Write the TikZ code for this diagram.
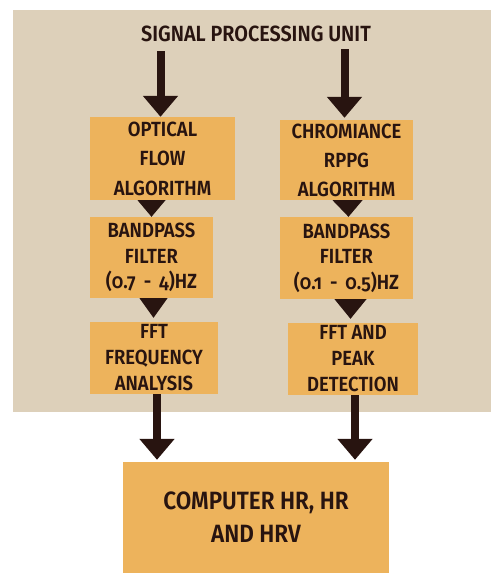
\documentclass[tikz,border=0pt]{standalone}
\usepackage{fontspec}
\setmainfont{Fira Sans}[Numbers=OldStyle,FakeStretch=0.9,BoldFont={Fira Sans SemiBold}]
\usetikzlibrary{arrows.meta,calc}
\definecolor{bgbeige}{RGB}{221,208,186}
\definecolor{boxorange}{RGB}{237,179,92}
\definecolor{darkbrown}{RGB}{40,20,16}
\begin{document}
\begin{tikzpicture}[x=1pt,y=-1pt,
  box/.style={fill=boxorange,draw=none,inner sep=0pt,align=center,text=darkbrown,
    font=\bfseries\fontsize{20.5}{25.5}\selectfont},
  bigarrow/.style={draw=darkbrown,line width=8pt,-{Triangle[width=34pt,length=21pt]}},
  tri/.style={fill=darkbrown}]
\useasboundingbox (0,0) rectangle (491,573);
\fill[white] (0,0) rectangle (491,573);
\fill[bgbeige] (13,10) rectangle (491,412);
\node[text=darkbrown,font=\bfseries\fontsize{22}{24}\selectfont] (title) at (256,34) {SIGNAL PROCESSING UNIT};
\node[box,minimum width=145pt,minimum height=83pt,font=\bfseries\fontsize{20.5}{29.5}\selectfont] (b1) at (162.5,158.5) {OPTICAL\\FLOW\\ALGORITHM};
\node[box,minimum width=133pt,minimum height=80pt,font=\bfseries\fontsize{20.5}{29}\selectfont] (c1) at (346.5,160) {CHROMIANCE\\RPPG\\ALGORITHM};
\node[box,minimum width=123pt,minimum height=81pt] (b2) at (151.5,257.5) {BANDPASS\\FILTER\\(0.7 \,-\, 4)HZ};
\node[box,minimum width=133pt,minimum height=82pt] (c2) at (346.5,258) {BANDPASS\\FILTER\\(0.1 \,-\, 0.5)HZ};
\node[box,minimum width=128pt,minimum height=72pt,font=\bfseries\fontsize{20.5}{26}\selectfont] (b3) at (154,358) {FFT\\FREQUENCY\\ANALYSIS};
\node[box,minimum width=130pt,minimum height=72pt,font=\bfseries\fontsize{20.5}{26}\selectfont] (c3) at (353,359) {FFT AND\\PEAK\\DETECTION};
\node[box,minimum width=266pt,minimum height=111pt,font=\bfseries\fontsize{25}{33}\selectfont] (out) at (256,517.5) {COMPUTER HR, HR\\AND HRV};
% arrows from title
\coordinate (s1) at ($(title.south -| b1.north)+(-2,6)$);
\coordinate (s2) at ($(title.south -| c1.north)+(-2,4)$);
\draw[bigarrow] (s1) -- ($(b1.north)+(-2,0)$);
\draw[bigarrow] (s2) -- ($(c1.north)+(-2,-2)$);
% small triangles
\fill[tri] ($(b1.south -| b2.north)+(-14,0)$) -- ($(b1.south -| b2.north)+(14,0)$) -- (b2.north) -- cycle;
\fill[tri] ($(c1.south)+(-14,0)$) -- ($(c1.south)+(16,0)$) -- ($(c2.north)+(2,0)$) -- cycle;
\fill[tri] ($(b2.south)+(-12,0)$) -- ($(b2.south)+(16,0)$) -- ($(b2.north |- b3.north)+(2,-4)$) -- cycle;
\fill[tri] ($(c2.south)+(-12,0)$) -- ($(c2.south)+(20,0)$) -- ($(c2.north |- c3.north)+(4,-4)$) -- cycle;
% bottom arrows
\draw[bigarrow] ($(b3.south)+(3,0)$) -- ($(b3.south |- out.north)+(3,-2)$);
\draw[bigarrow] ($(c3.south)+(2,0)$) -- ($(c3.south |- out.north)+(2,-2)$);
\end{tikzpicture}
\end{document}
